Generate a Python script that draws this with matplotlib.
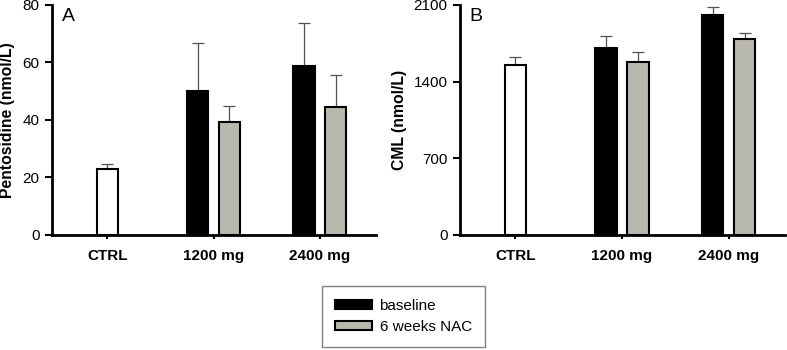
import matplotlib.pyplot as plt
from matplotlib.patches import Patch

plt.rcParams['font.family'] = ['Liberation Sans', 'DejaVu Sans']

grupos = ['CTRL', '1200 mg', '2400 mg']

# Panel A: pentosidina (nmol/L)
pento_ctrl = 23.0
pento_ctrl_err = 1.7
pento_base = [50.2, 58.8]
pento_base_err = [16.5, 15.0]
pento_nac = [39.1, 44.5]
pento_nac_err = [5.9, 11.2]

# Panel B: CML (nmol/L)
cml_ctrl = 1550
cml_ctrl_err = 76
cml_base = [1708, 2011]
cml_base_err = [108, 68]
cml_nac = [1577, 1788]
cml_nac_err = [92, 58]

color_nac = '#b8b8ac'
color_err = '#505050'


def panel(ax, ctrl, ctrl_err, base, base_err, nac, nac_err, ymax, yticks, ylabel, letra):
    w = 0.2
    off = 0.15
    xs = [1, 2]
    ax.bar(0, ctrl, w, color='white', edgecolor='black', linewidth=1.5, zorder=2)
    ax.errorbar(0, ctrl, yerr=[[0], [ctrl_err]], fmt='none', ecolor=color_err,
                elinewidth=0.9, capsize=4, capthick=0.9, zorder=1)
    xb = [x - off for x in xs]
    xn = [x + off for x in xs]
    ax.bar(xb, base, w, color='black', edgecolor='black', linewidth=1.5, zorder=2)
    ax.bar(xn, nac, w, color=color_nac, edgecolor='black', linewidth=1.5, zorder=2)
    ax.errorbar(xb, base, yerr=[[0, 0], base_err], fmt='none', ecolor=color_err,
                elinewidth=0.9, capsize=4, capthick=0.9, zorder=1)
    ax.errorbar(xn, nac, yerr=[[0, 0], nac_err], fmt='none', ecolor=color_err,
                elinewidth=0.9, capsize=4, capthick=0.9, zorder=1)

    ax.set_xlim(-0.52, 2.53)
    ax.set_ylim(0, ymax)
    ax.set_yticks(yticks)
    ax.set_xticks([0, 1, 2])
    ax.set_xticklabels(grupos, fontweight='bold', fontsize=11)
    ax.tick_params(axis='y', labelsize=11, length=5, width=1.5, pad=4)
    ax.tick_params(axis='x', length=3, width=1.5, pad=7)
    ax.set_ylabel(ylabel, fontweight='bold', fontsize=11.3, labelpad=5)
    ax.spines['top'].set_visible(False)
    ax.spines['right'].set_visible(False)
    ax.spines['left'].set_linewidth(2)
    ax.spines['bottom'].set_linewidth(2)
    ax.text(0.03, 0.985, letra, transform=ax.transAxes, fontsize=14, va='top', ha='left')


fig = plt.figure(figsize=(7.87, 3.5), dpi=100)
ax1 = fig.add_axes([0.066, 0.329, 0.412, 0.657])
ax2 = fig.add_axes([0.5845, 0.329, 0.413, 0.657])

panel(ax1, pento_ctrl, pento_ctrl_err, pento_base, pento_base_err, pento_nac, pento_nac_err,
      80, [0, 20, 40, 60, 80], 'Pentosidine (nmol/L)', 'A')
panel(ax2, cml_ctrl, cml_ctrl_err, cml_base, cml_base_err, cml_nac, cml_nac_err,
      2100, [0, 700, 1400, 2100], 'CML (nmol/L)', 'B')

handles = [Patch(facecolor='black', edgecolor='black', linewidth=1.5),
           Patch(facecolor=color_nac, edgecolor='black', linewidth=1.5)]
leg = fig.legend(handles, ['baseline', '6 weeks NAC'], loc='center',
                 bbox_to_anchor=(0.5127, 0.096),
                 fontsize=11, handlelength=2.4, handleheight=0.55, fancybox=False,
                 borderpad=0.85, labelspacing=0.45, handletextpad=0.5)
leg.get_frame().set_edgecolor('#606060')
leg.get_frame().set_linewidth(1)

fig.savefig('out.png', dpi=100)
